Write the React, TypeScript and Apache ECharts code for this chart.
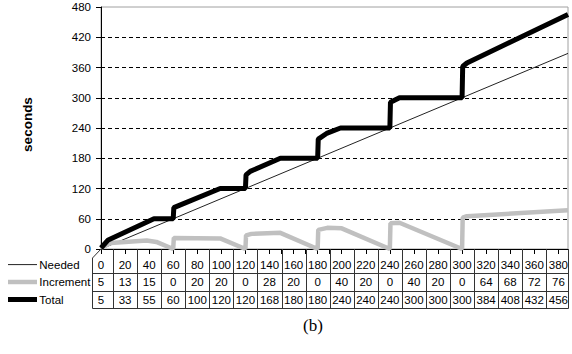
import React, { useEffect, useRef } from "react";
import * as echarts from "echarts";

// ---- data ----
const TABLE_CATEGORIES = [0, 20, 40, 60, 80, 100, 120, 140, 160, 180, 200, 220, 240, 260, 280, 300, 320, 340, 360, 380];
const NEEDED_ROW = [0, 20, 40, 60, 80, 100, 120, 140, 160, 180, 200, 220, 240, 260, 280, 300, 320, 340, 360, 380];
const INCREMENT_ROW = [5, 13, 15, 0, 20, 20, 0, 28, 20, 0, 40, 20, 0, 40, 20, 0, 64, 68, 72, 76];
const TOTAL_ROW = [5, 33, 55, 60, 100, 120, 120, 168, 180, 180, 240, 240, 240, 300, 300, 300, 384, 408, 432, 456];
const ROW_NAMES = ["Needed", "Increment", "Total"];

const NEEDED_LINE = [[0, 0], [388, 388]];
const INCREMENT_LINE = [
  [0, 2], [8, 12], [38, 17], [46, 14], [60, 0], [60.5, 22], [99, 21], [120, 0],
  [120.5, 27], [125, 30], [149, 32], [180, 0], [180.5, 38], [188, 42], [200, 41], [240, 0],
  [240.5, 51], [248, 52], [300, 0], [300.5, 62], [304, 65], [388, 77],
];
const TOTAL_LINE = [
  [0, 2], [6, 18], [44, 60], [60, 60], [60.5, 82], [99, 120], [120, 120],
  [120.5, 147], [124, 154], [149, 180], [180, 180], [180.5, 218], [188, 230], [199, 240],
  [240, 240], [240.5, 291], [248, 300], [300, 300], [300.5, 362], [304, 369], [388, 465],
];

const X_MAX = 388;
const Y_MAX = 480;
const Y_STEP = 60;

const FONT = '"Liberation Sans", Arial, sans-serif';

export default function App() {
  const ref = useRef<HTMLDivElement>(null);

  useEffect(() => {
    const chart = echarts.init(ref.current!, null, { renderer: "svg" });
    chart.setOption({
      animation: false,
      grid: {
        left: 101, top: 7, width: 467, height: 242,
        show: true, borderColor: "#a0a0a0", borderWidth: 1,
      },
      xAxis: {
        type: "value", min: 0, max: X_MAX, interval: 10,
        axisLine: { show: true, lineStyle: { color: "#000", width: 1 } },
        axisTick: { show: true, length: 5, lineStyle: { color: "#000" } },
        axisLabel: { show: false },
        splitLine: { show: false },
      },
      yAxis: {
        type: "value", min: 0, max: Y_MAX, interval: Y_STEP,
        axisLine: { show: true, lineStyle: { color: "#000", width: 1 } },
        axisTick: { show: true, length: 5, lineStyle: { color: "#000" } },
        axisLabel: { color: "#000", fontSize: 11.5, fontFamily: FONT, margin: 10 },
        splitLine: {
          show: true, showMinLine: false, showMaxLine: false,
          lineStyle: { color: "#000", type: [4, 3], width: 1 },
        },
      },
      series: [
        {
          name: "Needed", type: "line", data: NEEDED_LINE, showSymbol: false,
          lineStyle: { color: "#222", width: 1 }, z: 2,
        },
        {
          name: "Increment", type: "line", data: INCREMENT_LINE, showSymbol: false,
          lineStyle: { color: "#c0c0c0", width: 4.5 }, z: 3,
        },
        {
          name: "Total", type: "line", data: TOTAL_LINE, showSymbol: false,
          lineStyle: { color: "#000", width: 5 }, z: 4,
        },
      ],
    });

    const gx = (v: number) => chart.convertToPixel({ xAxisIndex: 0 }, v) as number;
    const gy = (v: number) => chart.convertToPixel({ yAxisIndex: 0 }, v) as number;
    const crisp = (p: number) => Math.round(p) + 0.5;

    const yTop = gy(0);
    const rowBottoms = [yTop + 24.3, yTop + 41.7, yTop + 59.3];
    const rowCenters = [yTop + 15.6, yTop + 33, yTop + 50.5];
    const x0 = gx(0);
    const xRight = gx(X_MAX);
    const xLeft = x0 - 9.3;
    const cornerY = yTop + 9;
    const lineColor = "#333";

    const elements: any[] = [];
    const addLine = (x1: number, y1: number, x2: number, y2: number, stroke = lineColor, w = 1) =>
      elements.push({ type: "line", shape: { x1, y1, x2, y2 }, style: { stroke, lineWidth: w }, z: 10 });

    // table borders
    addLine(crisp(xLeft), cornerY, crisp(xLeft), crisp(rowBottoms[2]));
    addLine(crisp(xLeft), cornerY, x0, yTop);
    rowBottoms.forEach((yb) => addLine(crisp(xLeft), crisp(yb), crisp(xRight), crisp(yb)));
    for (let k = 1; k < TABLE_CATEGORIES.length; k++) {
      const xb = crisp(gx(TABLE_CATEGORIES[k] - 10));
      addLine(xb, yTop, xb, crisp(rowBottoms[2]));
    }
    addLine(crisp(xRight), yTop, crisp(xRight), crisp(rowBottoms[2]));

    const rows = [NEEDED_ROW, INCREMENT_ROW, TOTAL_ROW];
    rows.forEach((row, r) => {
      row.forEach((val, i) => {
        elements.push({
          type: "text", x: gx(TABLE_CATEGORIES[i]), y: rowCenters[r], z: 11,
          style: {
            text: String(val), fill: "#000", font: `11.5px ${FONT}`,
            align: "center", verticalAlign: "middle",
          },
        });
      });
    });

    // row legend keys and names
    const keyStyles = [
      { stroke: "#222", w: 1 },
      { stroke: "#c0c0c0", w: 4.5 },
      { stroke: "#000", w: 5 },
    ];
    ROW_NAMES.forEach((name, r) => {
      addLine(8, rowCenters[r], 37, rowCenters[r], keyStyles[r].stroke, keyStyles[r].w);
      elements.push({
        type: "text", x: 39.3, y: rowCenters[r], z: 11,
        style: { text: name, fill: "#000", font: `11.5px ${FONT}`, align: "left", verticalAlign: "middle" },
      });
    });

    // axis title
    elements.push({
      type: "text", x: 27, y: 124.5, rotation: Math.PI / 2, z: 11,
      style: { text: "seconds", fill: "#000", font: `bold 13.5px ${FONT}`, align: "center", verticalAlign: "middle" },
    });
    // caption
    elements.push({
      type: "text", x: 313, y: 325, z: 11,
      style: { text: "(b)", fill: "#000", font: `17px "Liberation Serif", "Times New Roman", serif`, align: "center", verticalAlign: "middle" },
    });

    chart.setOption({ graphic: { elements } });

    return () => chart.dispose();
  }, []);

  return <div ref={ref} style={{ position: "fixed", left: 0, top: 0, width: 572, height: 354, background: "#fff" }} />;
}
